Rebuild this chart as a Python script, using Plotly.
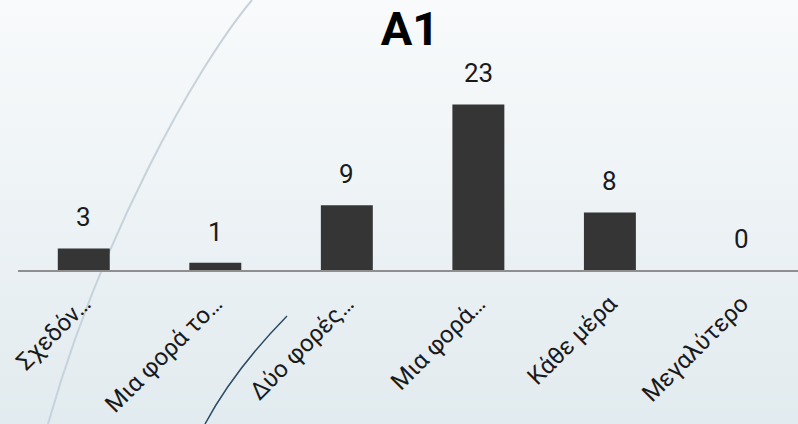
import plotly.graph_objects as go

categories = ["Σχεδόν…", "Μια φορά το…", "Δύο φορές…", "Μια φορά…", "Κάθε μέρα", "Μεγαλύτερο"]
values = [3, 1, 9, 23, 8, 0]
title_text = "A1"

W, H = 798, 424
L, R, T, B = 18, 0, 60, 154
PW, PH = W - L - R, H - T - B

def px(x):
    return (x - L) / PW

def py(y):
    return (T + PH - y) / PH

FONT = "Roboto"

fig = go.Figure()
fig.add_trace(go.Bar(
    x=categories, y=values,
    marker=dict(color="#353535", line=dict(width=0)),
    cliponaxis=False,
))

annotations = [
    dict(x=c, y=v, xref="x", yref="y", text=str(v), showarrow=False,
         yanchor="bottom", yshift=14, font=dict(family=FONT, size=26, color="#1a1a1a"))
    for c, v in zip(categories, values)
]

# background gradient bands
shapes = []
top = (248, 250, 251)
bot = (226, 235, 239)
n = 53
for i in range(n):
    f = i / (n - 1)
    col = tuple(round(top[k] + (bot[k] - top[k]) * f) for k in range(3))
    y0 = H * i / n
    y1 = H * (i + 1) / n + 0.5
    shapes.append(dict(type="rect", xref="paper", yref="paper", layer="below",
                       x0=px(-2), x1=px(W + 2), y0=py(y0), y1=py(y1),
                       fillcolor="rgb(%d,%d,%d)" % col, line=dict(width=0)))

def pt(x, y):
    return "%.5f,%.5f" % (px(x), py(y))

shapes.append(dict(type="path", xref="paper", yref="paper", layer="below",
                   path="M %s C %s %s %s" % (pt(252, 0), pt(195, 68), pt(100, 240), pt(48, 424)),
                   line=dict(color="#c6d3dc", width=2)))
shapes.append(dict(type="path", xref="paper", yref="paper", layer="below",
                   path="M %s Q %s %s" % (pt(287, 316), pt(234, 370), pt(205, 424)),
                   line=dict(color="#2d4b66", width=1.5)))

fig.update_layout(
    width=W, height=H, autosize=False,
    margin=dict(l=L, r=R, t=T, b=B, autoexpand=False),
    paper_bgcolor="#e9eff2",
    plot_bgcolor="rgba(0,0,0,0)",
    bargap=0.605,
    showlegend=False,
    title=dict(text="<b>%s</b>" % title_text, x=410 / W, xanchor="center",
               y=1 - 29 / H, yanchor="middle", yref="container",
               font=dict(family=FONT, size=47, color="#000000")),
    xaxis=dict(range=[-0.5, 5.43], showline=True, linecolor="#8f8f8f", linewidth=2,
               tickangle=-45, ticks="outside", ticklen=8, tickcolor="rgba(0,0,0,0)",
               showgrid=False, zeroline=False, automargin=False,
               tickfont=dict(family=FONT, size=24, color="#1a1a1a")),
    yaxis=dict(range=[0, PH / 7.2], visible=False, showgrid=False, zeroline=False,
               automargin=False),
    shapes=shapes,
    annotations=annotations,
)

fig.write_html("out.html",
               config={"displayModeBar": False, "responsive": False},
               post_script="document.body.style.margin='0';document.body.style.overflow='hidden';")
